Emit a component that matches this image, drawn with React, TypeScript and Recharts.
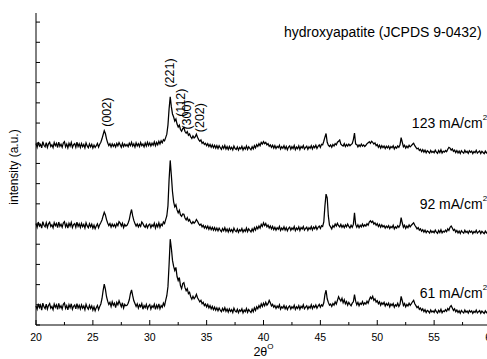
import { LineChart, Line, XAxis, YAxis, ReferenceDot } from 'recharts';

// scan grid (2-theta, degrees)
const scanStart = 20;
const scanStep = 0.1;

// intensities, already stacked (a.u.), one row per degree
const j61 = [
  0.94, 0.78, 1.05, 0.86, 0.99, 0.74, 1.08, 0.90, 0.81, 1.03,
  0.79, 0.97, 1.06, 0.83, 0.92, 0.76, 1.04, 0.88, 1.00, 0.77,
  1.07, 0.85, 0.95, 0.79, 1.02, 1.09, 0.82, 0.96, 0.75, 1.01,
  0.86, 1.05, 0.78, 0.93, 0.99, 0.80, 1.06, 0.84, 0.97, 0.79,
  1.00, 0.83, 0.94, 0.76, 1.03, 0.87, 0.78, 0.98, 0.82, 0.95,
  0.74, 0.90, 0.71, 0.86, 0.97, 0.76, 0.92, 1.04, 1.30, 1.70,
  2.02, 1.78, 1.40, 1.18, 1.02, 1.12, 0.92, 1.15, 0.98, 1.08,
  0.86, 1.12, 1.00, 1.20, 1.05, 0.90, 1.10, 0.84, 1.02, 0.95,
  0.98, 1.08, 1.25, 1.55, 1.74, 1.45, 1.20, 1.06, 0.92, 1.05,
  0.84, 1.00, 0.90, 1.06, 0.78, 0.96, 0.86, 1.02, 0.80, 0.94,
  1.01, 0.79, 0.95, 0.87, 1.03, 0.77, 0.98, 0.84, 1.05, 0.80,
  0.96, 0.88, 1.08, 0.95, 1.22, 1.45, 1.90, 3.00, 4.25, 3.80,
  3.20, 2.90, 2.70, 2.85, 2.40, 2.20, 2.35, 1.95, 1.80, 2.05,
  2.10, 1.85, 1.70, 1.80, 1.55, 1.62, 1.40, 1.28, 1.42, 1.30,
  1.38, 1.52, 1.35, 1.25, 1.15, 1.22, 1.05, 1.12, 0.96, 1.04,
  0.90, 1.02, 0.85, 0.96, 0.80, 0.92, 0.76, 0.88, 0.73, 0.85,
  0.70, 0.84, 0.74, 0.66, 0.82, 0.71, 0.86, 0.68, 0.79, 0.64,
  0.80, 0.67, 0.76, 0.62, 0.83, 0.70, 0.65, 0.78, 0.61, 0.75,
  0.68, 0.80, 0.60, 0.74, 0.66, 0.82, 0.63, 0.77, 0.69, 0.62,
  0.78, 0.66, 0.85, 0.72, 0.90, 0.80, 0.96, 0.86, 1.05, 0.92,
  1.08, 0.95, 1.12, 0.98, 1.06, 1.22, 1.10, 0.94, 1.02, 0.88,
  0.96, 0.82, 0.94, 0.86, 1.00, 0.78, 0.90, 0.84, 0.97, 0.80,
  0.92, 0.76, 0.89, 0.95, 0.79, 0.91, 0.83, 0.98, 0.77, 0.90,
  0.82, 0.96, 0.78, 0.93, 0.85, 1.00, 0.80, 0.88, 0.95, 0.79,
  0.92, 0.84, 1.00, 0.81, 0.95, 0.87, 0.99, 0.83, 0.94, 1.02,
  0.88, 1.00, 0.94, 1.10, 1.50, 1.72, 1.30, 1.12, 0.98, 1.04,
  0.92, 1.06, 0.98, 1.15, 1.04, 1.22, 1.40, 1.28, 1.18, 1.32,
  1.10, 1.25, 1.05, 1.16, 0.98, 1.12, 1.02, 0.95, 1.08, 1.15,
  1.50, 1.18, 1.00, 1.12, 0.95, 1.08, 1.02, 1.16, 1.00, 1.10,
  1.04, 1.18, 1.08, 1.25, 1.38, 1.30, 1.42, 1.22, 1.30, 1.14,
  1.20, 1.05, 1.15, 0.98, 1.10, 1.02, 1.12, 0.94, 1.06, 0.98,
  1.08, 0.90, 1.04, 0.96, 1.06, 0.88, 1.00, 0.94, 1.08, 0.92,
  1.02, 1.42, 1.20, 0.96, 1.06, 0.90, 1.02, 0.94, 1.08, 0.98,
  1.06, 1.15, 1.22, 1.05, 0.96, 0.86, 0.92, 0.78, 0.84, 0.72,
  0.80, 0.66, 0.76, 0.62, 0.72, 0.68, 0.60, 0.74, 0.64, 0.70,
  0.62, 0.76, 0.66, 0.59, 0.73, 0.64, 0.78, 0.61, 0.70, 0.66,
  0.76, 0.68, 0.82, 0.74, 0.90, 0.96, 0.84, 0.72, 0.80, 0.66,
  0.74, 0.62, 0.70, 0.58, 0.72, 0.65, 0.60, 0.74, 0.63, 0.69,
  0.59, 0.72, 0.64, 0.70, 0.58, 0.68, 0.62, 0.74, 0.60, 0.66,
  0.71, 0.58, 0.69, 0.63, 0.57, 0.70, 0.61, 0.67, 0.59, 0.72,
  0.66,
];

const j92 = [
  5.02, 4.84, 5.10, 4.90, 4.98, 4.80, 5.12, 4.94, 4.86, 5.06,
  4.83, 5.01, 5.09, 4.88, 4.96, 4.81, 5.07, 4.92, 5.03, 4.82,
  5.10, 4.89, 4.99, 4.84, 5.05, 5.12, 4.86, 5.00, 4.80, 5.04,
  4.90, 5.08, 4.82, 4.97, 5.02, 4.84, 5.09, 4.88, 5.01, 4.83,
  5.03, 4.87, 4.98, 4.80, 5.06, 4.91, 4.82, 5.01, 4.86, 4.99,
  4.79, 4.94, 4.77, 4.90, 5.01, 4.82, 4.97, 5.08, 5.20, 5.40,
  5.58, 5.45, 5.22, 5.05, 4.92, 5.02, 4.85, 5.00, 4.88, 4.98,
  4.84, 5.02, 4.92, 5.12, 5.05, 4.90, 5.04, 4.82, 4.98, 4.90,
  4.94, 5.05, 5.22, 5.50, 5.72, 5.40, 5.18, 5.02, 4.90, 5.00,
  4.86, 4.98, 4.88, 5.10, 5.02, 4.90, 4.84, 4.98, 4.82, 4.95,
  5.00, 4.82, 4.96, 4.88, 5.04, 4.80, 4.99, 4.86, 5.06, 4.84,
  5.00, 4.92, 5.10, 5.02, 5.22, 5.40, 5.90, 7.20, 8.15, 7.40,
  6.60, 6.10, 5.85, 5.95, 5.70, 5.55, 5.68, 5.45, 5.38, 5.50,
  5.48, 5.30, 5.20, 5.32, 5.15, 5.22, 5.08, 5.02, 5.12, 5.04,
  5.10, 5.22, 5.14, 5.02, 4.94, 5.00, 4.86, 4.94, 4.80, 4.90,
  4.78, 4.90, 4.74, 4.86, 4.72, 4.84, 4.70, 4.82, 4.68, 4.80,
  4.66, 4.80, 4.70, 4.62, 4.78, 4.67, 4.82, 4.64, 4.75, 4.61,
  4.77, 4.64, 4.73, 4.60, 4.80, 4.67, 4.62, 4.75, 4.59, 4.72,
  4.65, 4.78, 4.60, 4.72, 4.64, 4.80, 4.62, 4.76, 4.68, 4.61,
  4.76, 4.64, 4.82, 4.70, 4.86, 4.76, 4.90, 4.80, 4.98, 4.88,
  5.06, 4.92, 5.02, 4.86, 4.95, 4.80, 4.90, 4.76, 4.88, 4.72,
  4.84, 4.70, 4.82, 4.74, 4.88, 4.68, 4.80, 4.72, 4.86, 4.70,
  4.82, 4.66, 4.79, 4.85, 4.69, 4.81, 4.73, 4.88, 4.67, 4.80,
  4.72, 4.86, 4.68, 4.83, 4.75, 4.88, 4.70, 4.78, 4.84, 4.69,
  4.82, 4.74, 4.88, 4.71, 4.85, 4.77, 4.89, 4.73, 4.84, 4.90,
  4.78, 4.92, 4.88, 5.10, 5.90, 6.48, 6.30, 5.40, 4.95, 4.86,
  4.76, 4.92, 4.84, 5.00, 4.90, 5.04, 4.92, 4.86, 4.98, 4.84,
  4.94, 4.82, 4.96, 4.86, 5.00, 4.88, 4.80, 4.94, 4.84, 4.98,
  5.55, 4.98, 4.84, 4.96, 4.82, 4.94, 4.86, 5.00, 4.88, 4.96,
  4.90, 5.02, 4.94, 5.10, 5.16, 5.08, 5.14, 5.00, 5.06, 4.94,
  5.02, 4.88, 4.98, 4.84, 4.96, 4.86, 4.92, 4.80, 4.90, 4.82,
  4.92, 4.78, 4.88, 4.82, 4.94, 4.76, 4.86, 4.80, 4.92, 4.84,
  4.95, 5.32, 5.05, 4.84, 4.94, 4.78, 4.90, 4.82, 4.96, 4.86,
  4.94, 5.00, 5.06, 4.94, 4.86, 4.76, 4.82, 4.70, 4.76, 4.64,
  4.72, 4.60, 4.70, 4.57, 4.66, 4.62, 4.55, 4.68, 4.58, 4.64,
  4.57, 4.70, 4.60, 4.54, 4.68, 4.58, 4.72, 4.56, 4.65, 4.60,
  4.70, 4.62, 4.76, 4.68, 4.84, 4.90, 4.80, 4.68, 4.74, 4.60,
  4.68, 4.56, 4.65, 4.53, 4.67, 4.60, 4.55, 4.69, 4.58, 4.64,
  4.54, 4.67, 4.59, 4.65, 4.53, 4.63, 4.57, 4.69, 4.55, 4.61,
  4.66, 4.53, 4.64, 4.58, 4.52, 4.65, 4.56, 4.62, 4.54, 4.67,
  4.60,
];

const j123 = [
  8.98, 8.80, 9.06, 8.86, 8.94, 8.77, 9.08, 8.90, 8.82, 9.03,
  8.79, 8.97, 9.05, 8.84, 8.92, 8.78, 9.04, 8.88, 9.00, 8.79,
  9.06, 8.85, 8.95, 8.80, 9.01, 9.08, 8.82, 8.96, 8.77, 9.00,
  8.86, 9.04, 8.79, 8.93, 8.98, 8.80, 9.05, 8.84, 8.97, 8.79,
  8.99, 8.83, 8.94, 8.77, 9.02, 8.87, 8.78, 8.97, 8.82, 8.95,
  8.76, 8.91, 8.79, 8.88, 8.99, 8.81, 8.95, 9.05, 9.22, 9.42,
  9.62, 9.48, 9.22, 9.02, 8.88, 8.98, 8.82, 8.97, 8.85, 8.95,
  8.82, 8.99, 8.87, 9.03, 8.92, 8.80, 9.00, 8.84, 8.96, 8.86,
  8.94, 8.83, 9.00, 8.88, 9.05, 8.86, 8.97, 8.81, 9.02, 8.87,
  8.98, 8.84, 9.04, 8.88, 8.96, 8.82, 9.01, 8.86, 9.05, 8.89,
  9.02, 8.86, 9.00, 8.90, 9.07, 8.88, 9.04, 8.92, 9.10, 8.96,
  9.12, 9.02, 9.18, 9.12, 9.28, 9.45, 9.90, 10.70, 11.30, 10.80,
  10.45, 10.30, 10.10, 10.20, 9.95, 9.80, 9.90, 9.68, 9.60, 9.72,
  9.78, 9.58, 9.50, 9.58, 9.40, 9.46, 9.32, 9.24, 9.36, 9.26,
  9.32, 9.45, 9.30, 9.18, 9.10, 9.16, 9.00, 9.06, 8.94, 9.00,
  8.88, 8.98, 8.84, 8.94, 8.80, 8.92, 8.78, 8.90, 8.76, 8.88,
  8.74, 8.88, 8.78, 8.70, 8.86, 8.74, 8.89, 8.71, 8.83, 8.69,
  8.84, 8.71, 8.80, 8.67, 8.86, 8.74, 8.69, 8.82, 8.66, 8.79,
  8.72, 8.85, 8.67, 8.80, 8.71, 8.87, 8.69, 8.83, 8.75, 8.68,
  8.83, 8.72, 8.88, 8.77, 8.93, 8.84, 8.98, 8.88, 9.04, 8.96,
  9.08, 8.98, 9.04, 8.92, 8.98, 8.85, 8.92, 8.80, 8.90, 8.76,
  8.88, 8.74, 8.85, 8.78, 8.90, 8.71, 8.83, 8.75, 8.88, 8.72,
  8.84, 8.68, 8.81, 8.87, 8.70, 8.83, 8.74, 8.89, 8.68, 8.81,
  8.73, 8.87, 8.69, 8.84, 8.76, 8.89, 8.71, 8.79, 8.85, 8.70,
  8.83, 8.75, 8.88, 8.72, 8.86, 8.78, 8.90, 8.74, 8.85, 8.92,
  8.80, 8.95, 8.92, 9.10, 9.30, 9.48, 9.05, 8.90, 8.84, 8.92,
  8.80, 8.94, 8.86, 8.98, 8.92, 9.05, 9.10, 9.16, 8.96, 8.90,
  8.86, 8.98, 8.84, 8.94, 8.86, 8.96, 8.88, 8.94, 8.98, 9.18,
  9.50, 8.96, 8.94, 8.82, 8.92, 8.84, 8.96, 8.86, 8.92, 8.84,
  8.90, 8.98, 9.02, 9.08, 9.00, 9.10, 9.04, 8.96, 9.02, 8.88,
  8.94, 8.80, 8.90, 8.76, 8.88, 8.78, 8.86, 8.74, 8.85, 8.77,
  8.86, 8.72, 8.84, 8.78, 8.88, 8.72, 8.82, 8.76, 8.87, 8.80,
  8.92, 9.28, 9.05, 8.82, 8.90, 8.76, 8.86, 8.78, 8.90, 8.82,
  8.88, 8.95, 9.00, 8.88, 8.80, 8.72, 8.76, 8.64, 8.70, 8.58,
  8.68, 8.56, 8.66, 8.53, 8.63, 8.58, 8.51, 8.64, 8.54, 8.60,
  8.53, 8.66, 8.56, 8.50, 8.64, 8.54, 8.68, 8.52, 8.61, 8.56,
  8.64, 8.58, 8.70, 8.80, 8.76, 8.66, 8.72, 8.60, 8.66, 8.54,
  8.64, 8.52, 8.61, 8.49, 8.63, 8.56, 8.51, 8.65, 8.54, 8.60,
  8.50, 8.63, 8.55, 8.61, 8.49, 8.59, 8.53, 8.65, 8.51, 8.57,
  8.62, 8.49, 8.60, 8.54, 8.48, 8.61, 8.52, 8.58, 8.50, 8.63,
  8.56,
];

const xTicks = [20, 22.5, 25, 27.5, 30, 32.5, 35, 37.5, 40, 42.5, 45, 47.5, 50, 52.5, 55, 57.5, 60];
const yTicks = [0, 1, 2, 3, 4, 5, 6, 7, 8, 9, 10, 11, 12, 13, 14, 15];

// annotation anchors in data units
const reflections = [
  { hkl: '(002)', at: 26.25, level: 10.54 },
  { hkl: '(221)', at: 31.8, level: 12.48 },
  { hkl: '(112)', at: 32.76, level: 11.01 },
  { hkl: '(300)', at: 33.29, level: 10.4 },
  { hkl: '(202)', at: 34.44, level: 10.27 },
];
const currents = [
  { label: '123 mA/cm', level: 9.74 },
  { label: '92 mA/cm', level: 5.73 },
  { label: '61 mA/cm', level: 1.32 },
];

const data = j61.map((v, i) => ({
  twoTheta: Number((scanStart + i * scanStep).toFixed(1)),
  j61: v,
  j92: j92[i],
  j123: j123[i],
}));

const font = 'Arial, "Liberation Sans", sans-serif';

function BottomTick({ x, y, payload }: any) {
  const major = payload.value % 5 === 0;
  return (
    <g>
      <line x1={x} x2={x} y1={y} y2={y - (major ? 5 : 3)} stroke="#000" />
      {major && (
        <text x={x} y={y + 16} textAnchor="middle" fontSize={10.5} fontFamily={font} fill="#000">
          {payload.value}
        </text>
      )}
    </g>
  );
}

function TopTick({ x, y, payload }: any) {
  const major = payload.value % 5 === 0;
  return <line x1={x} x2={x} y1={y} y2={y + (major ? 5 : 3)} stroke="#000" />;
}

function LeftTick({ x, y }: any) {
  return <line x1={x} x2={x + 4} y1={y} y2={y} stroke="#000" />;
}

const peakShape = (hkl: string) => (p: any) => (
  <text
    x={p.cx}
    y={p.cy}
    transform={`rotate(-90 ${p.cx} ${p.cy})`}
    textAnchor="middle"
    dominantBaseline="central"
    fontSize={12.5}
    fontFamily={font}
    fill="#000"
  >
    {hkl}
  </text>
);

const currentShape = (label: string) => (p: any) => (
  <text x={p.cx} y={p.cy} textAnchor="end" fontSize={14} fontFamily={font} fill="#000">
    {label}
    <tspan fontSize={8} dy={-8}>2</tspan>
  </text>
);

const titleShape = (p: any) => (
  <text x={p.cx} y={p.cy} textAnchor="end" fontSize={14} fontFamily={font} fill="#000">
    hydroxyapatite (JCPDS 9-0432)
  </text>
);

export default function App() {
  return (
    <div
      style={{ position: 'fixed', left: 0, top: 0, width: 487, height: 359, overflow: 'hidden', background: '#fff' }}
    >
      <LineChart width={500} height={359} data={data} margin={{ top: 13, right: 9, bottom: 0, left: 0 }}>
        <XAxis
          type="number"
          dataKey="twoTheta"
          domain={[20, 60]}
          ticks={xTicks}
          interval={0}
          height={34}
          tick={<BottomTick />}
          tickLine={false}
          tickSize={0}
          tickMargin={0}
          axisLine={{ stroke: '#000' }}
          label={(p: any) => {
            const vb = p.viewBox;
            return (
              <text x={vb.x + vb.width / 2} y={vb.y + 31} textAnchor="middle" fontFamily={font} fill="#000">
                <tspan fontSize={12.5}>2θ</tspan>
                <tspan fontSize={8} dy={-7}>O</tspan>
              </text>
            );
          }}
        />
        <XAxis
          xAxisId="top"
          orientation="top"
          type="number"
          dataKey="twoTheta"
          domain={[20, 60]}
          ticks={xTicks}
          interval={0}
          height={0}
          tick={<TopTick />}
          tickLine={false}
          tickSize={0}
          tickMargin={0}
          axisLine={{ stroke: '#000' }}
        />
        <YAxis
          type="number"
          domain={[0, 15.45]}
          ticks={yTicks}
          interval={0}
          width={36}
          tick={<LeftTick />}
          tickLine={false}
          tickSize={0}
          tickMargin={0}
          axisLine={{ stroke: '#000' }}
          label={(p: any) => {
            const vb = p.viewBox;
            const cx = vb.x + 14;
            const cy = vb.y + vb.height / 2 - 2;
            return (
              <text
                x={cx}
                y={cy}
                transform={`rotate(-90 ${cx} ${cy})`}
                textAnchor="middle"
                dominantBaseline="central"
                fontSize={12}
                fontFamily={font}
                fill="#000"
              >
                intensity (a.u.)
              </text>
            );
          }}
        />
        <Line dataKey="j61" stroke="#000" strokeWidth={1.25} dot={false} isAnimationActive={false} />
        <Line dataKey="j92" stroke="#000" strokeWidth={1.25} dot={false} isAnimationActive={false} />
        <Line dataKey="j123" stroke="#000" strokeWidth={1.25} dot={false} isAnimationActive={false} />
        {reflections.map((r) => (
          <ReferenceDot key={r.hkl} x={r.at} y={r.level} ifOverflow="visible" shape={peakShape(r.hkl)} />
        ))}
        {currents.map((c) => (
          <ReferenceDot key={c.label} x={59.66} y={c.level} ifOverflow="visible" shape={currentShape(c.label)} />
        ))}
        <ReferenceDot x={59.17} y={14.24} ifOverflow="visible" shape={titleShape} />
      </LineChart>
    </div>
  );
}
